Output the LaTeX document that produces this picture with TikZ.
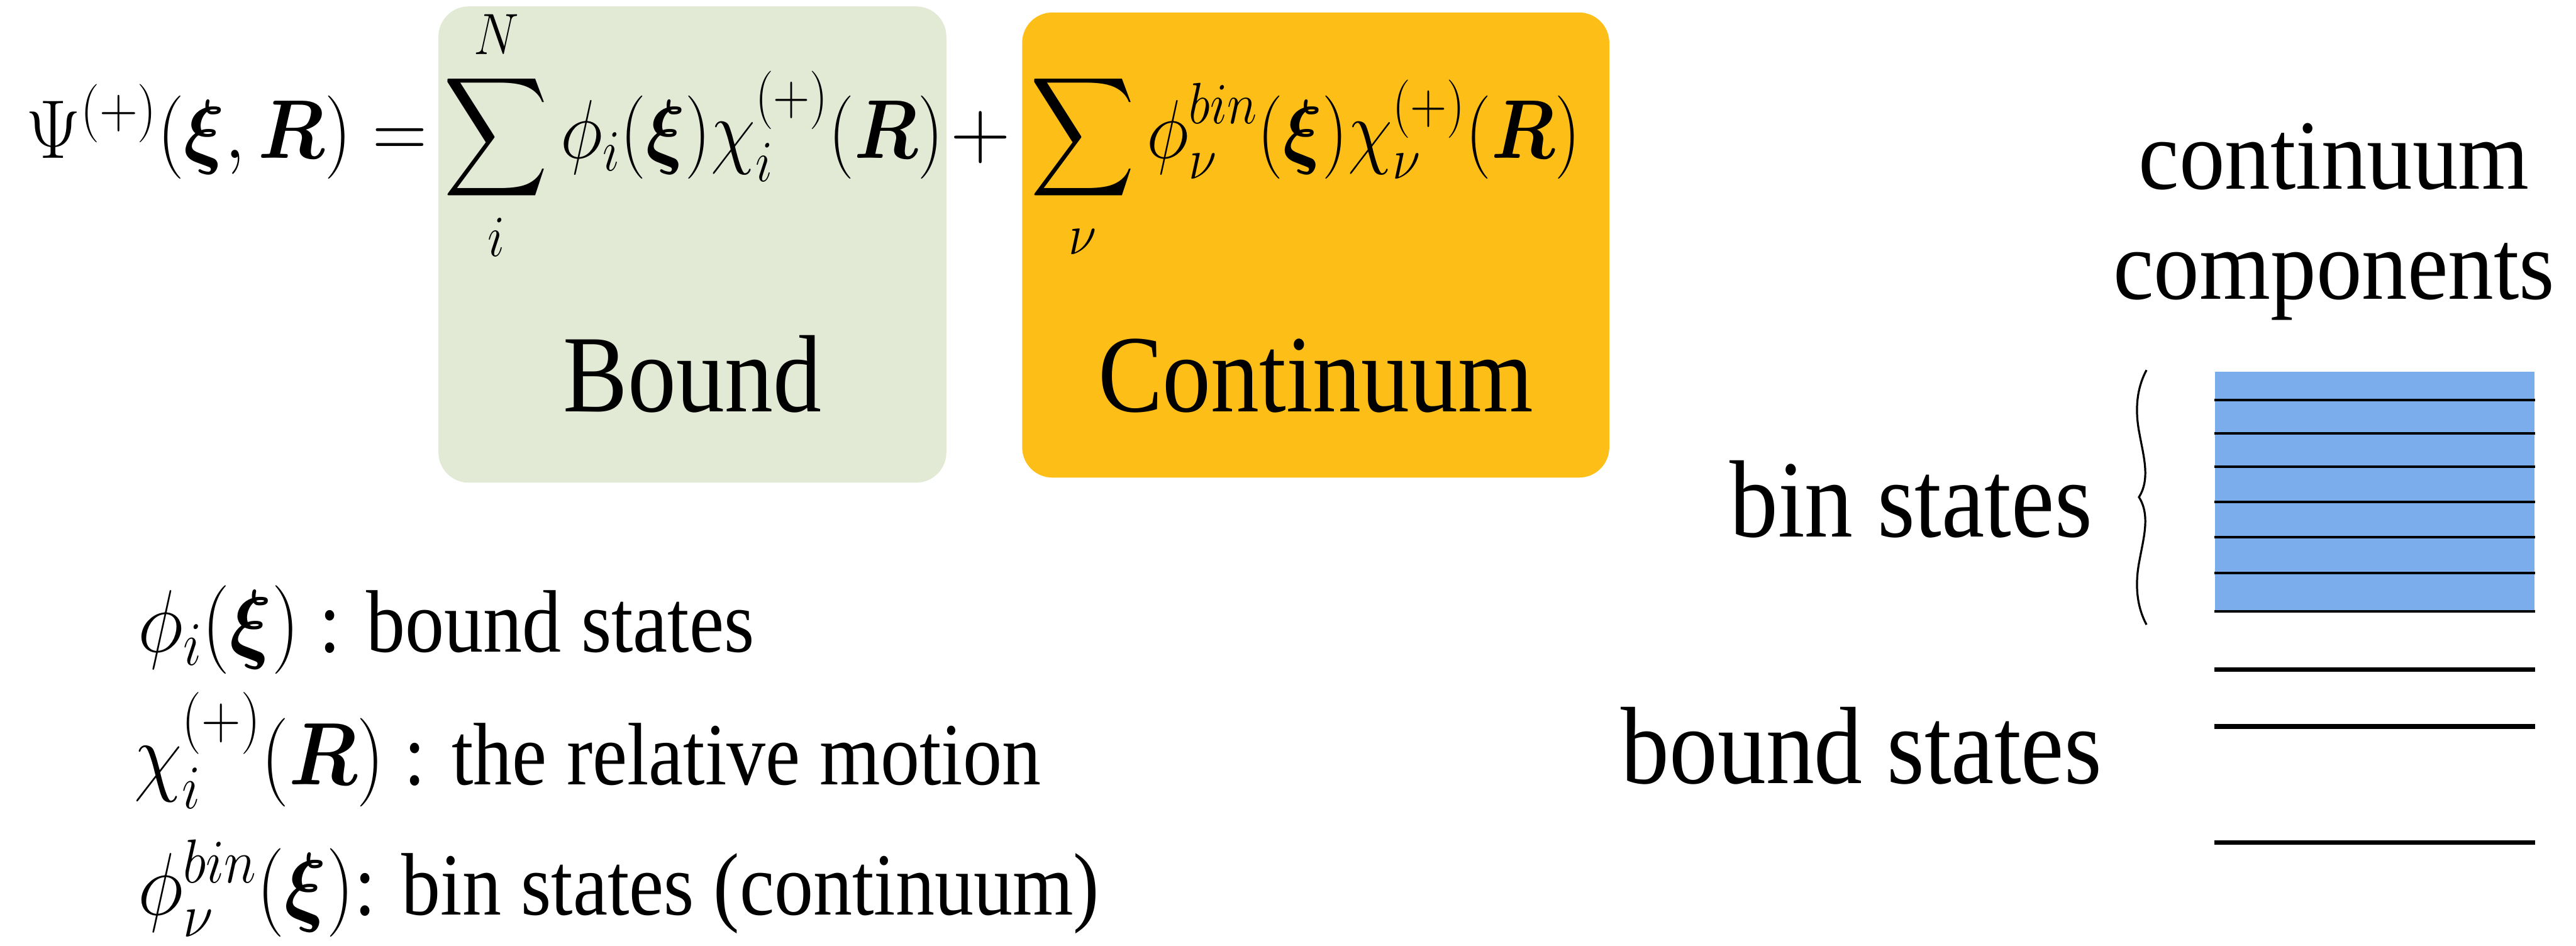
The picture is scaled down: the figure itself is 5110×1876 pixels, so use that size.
\RequirePackage{fix-cm}
\documentclass[tikz,border=0pt]{standalone}
\usepackage{amsmath}
\usepackage{bm}
\usepackage[no-math]{fontspec}
\setmainfont{Liberation Serif}
\usepackage{graphicx}
\usetikzlibrary{positioning}
\DeclareFontShape{OMX}{cmex}{m}{n}{<-> cmex10}{}
\definecolor{boundgreen}{RGB}{226,233,213}
\definecolor{contorange}{RGB}{254,190,24}
\definecolor{binblue}{RGB}{123,172,236}
\newcommand{\cond}[1]{\scalebox{0.88}[1]{#1}}
\newcommand{\squash}[2][0.87]{\scalebox{#1}[1]{#2}}
\tikzset{
  eqtext/.style={inner sep=0pt, anchor=base west, font=\fontsize{47}{56}\selectfont},
  boxlbl/.style={inner sep=0pt, anchor=base, font=\fontsize{62}{74}\selectfont},
  statelbl/.style={inner sep=0pt, anchor=base east, font=\fontsize{62}{74}\selectfont},
  complbl/.style={inner sep=0pt, anchor=base, font=\fontsize{56}{62}\selectfont},
  legend/.style={inner sep=0pt, anchor=base west, font=\fontsize{50}{60}\selectfont},
  sumbox/.style={rectangle, rounded corners=0.6cm, inner sep=0pt},
  binline/.style={line width=0.05cm},
  boundline/.style={line width=0.09cm}
}
\begin{document}
\begin{tikzpicture}[x=0.01cm, y=-0.01cm]
  \useasboundingbox (0,0) rectangle (5110,1876);

  % Coloured boxes behind the sums
  \node[sumbox, fill=boundgreen, minimum width=10.07cm, minimum height=9.44cm]
    (boundbox) at (1373.5,485) {};
  \node[sumbox, fill=contorange, minimum width=11.64cm, minimum height=9.22cm]
    (contbox) at (2610,486) {};

  % Expansion
  \node[eqtext] (lhs) at (51,314) {\squash[0.91]{$\Psi^{(+)}(\bm{\xi},\bm{R}) =$}};
  \node[eqtext] (boundsum) at (880,314)
    {\squash{$\displaystyle\sum_{i}^{N}\phi_i(\bm{\xi})\chi_i^{(+)}(\bm{R})$}};
  \node[eqtext, anchor=base] (plus) at (1945,314) {$+$};
  \node[eqtext] (contsum) at (2043,314)
    {\squash{$\displaystyle\sum_{\nu}\phi_\nu^{bin}(\bm{\xi})\chi_\nu^{(+)}(\bm{R})$}};

  \node[boxlbl] (boundlbl) at (boundbox.center |- 0,816) {\cond{Bound}};
  \node[boxlbl] (contlbl) at (contbox.center |- 0,816) {\cond{Continuum}};

  % Legend
  \node[legend] (phidef) at (273,1293)
    {\cond{$\phi_i(\bm{\xi})$ : bound states}};
  \node[legend] (chidef) at (266,1556)
    {\cond{$\chi_i^{(+)}(\bm{R})$ : the relative motion}};
  \node[legend] (bindef) at (273,1815)
    {\cond{$\phi_\nu^{bin}(\bm{\xi})$: bin states (continuum)}};

  % Level scheme
  \node[complbl] (contword) at (4630,375) {\scalebox{0.92}[1]{continuum}};
  \node[complbl] (compword) at (4630,593) {\scalebox{0.92}[1]{components}};

  \node[fill=binblue, inner sep=0pt, minimum width=6.34cm, minimum height=4.77cm]
    (binband) at (4711,976.5) {};
  \foreach \y in {794,860,926,995,1066,1136,1213}
    \draw[binline] (binband.west |- 0,\y) -- (binband.east |- 0,\y);
  \foreach \y in {1328,1441,1671}
    \draw[boundline] (binband.west |- 0,\y) -- (binband.east |- 0,\y);

  \draw[line width=0.04cm]
    (4258,734) .. controls (4236,775) and (4236,820) .. (4244,860)
    .. controls (4252,905) and (4266,950) .. (4243,986)
    .. controls (4266,1022) and (4252,1067) .. (4244,1112)
    .. controls (4236,1152) and (4236,1198) .. (4258,1239);

  \node[statelbl] (binlbl) at (4151,1065) {\cond{bin states}};
  \node[statelbl] (boundlbl2) at (4170,1554) {\cond{bound states}};
\end{tikzpicture}
\end{document}
